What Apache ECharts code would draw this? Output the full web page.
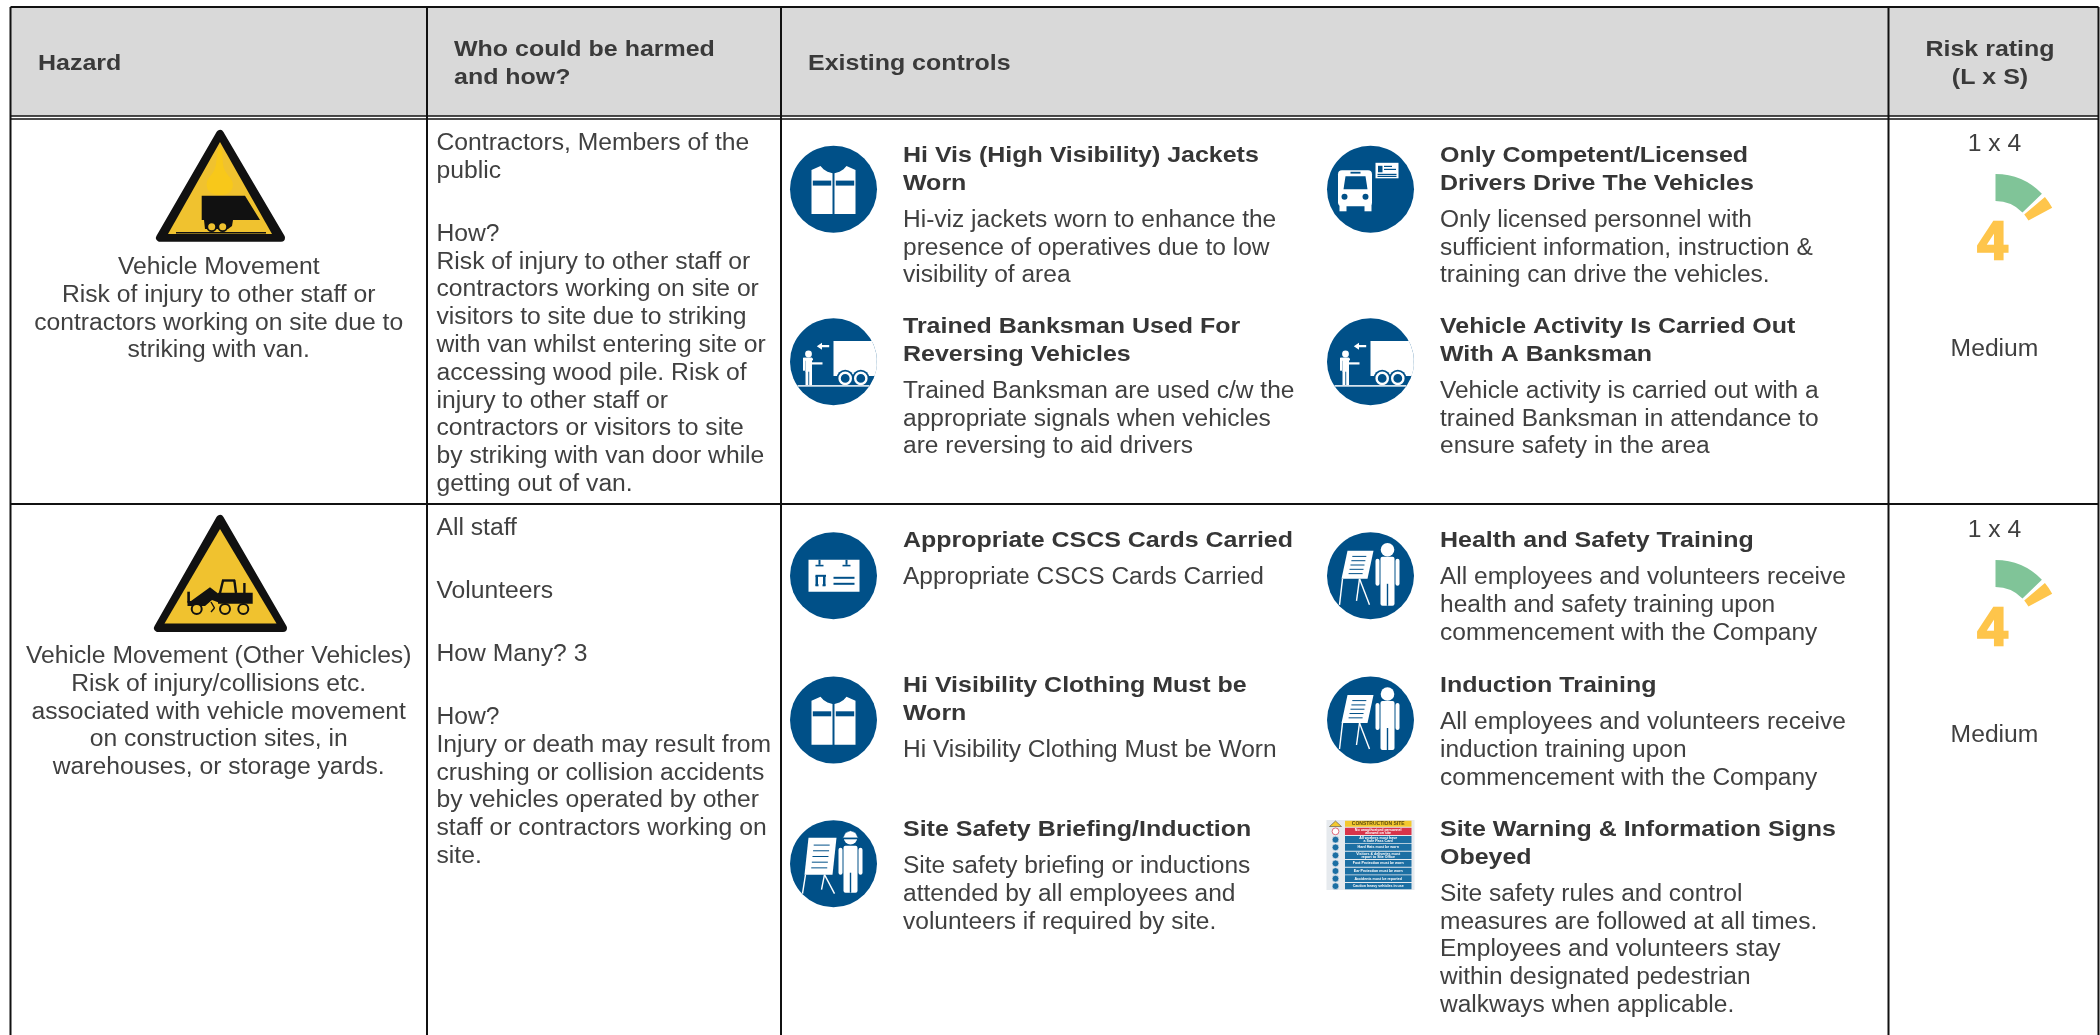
<!DOCTYPE html>
<html><head><meta charset="utf-8">
<script src="https://cdn.jsdelivr.net/npm/echarts@6/dist/echarts.min.js"></script>
<style>html,body{margin:0;padding:0;background:#fff}#c{width:2100px;height:1035px}</style>
</head><body><div id="c"></div>
<script>
// ---------- content ----------
const headers = { hazard: 'Hazard', who: 'Who could be harmed\nand how?', controls: 'Existing controls', risk: 'Risk rating\n(L x S)' };
const hazardTexts = [
  'Vehicle Movement\nRisk of injury to other staff or\ncontractors working on site due to\nstriking with van.',
  'Vehicle Movement (Other Vehicles)\nRisk of injury/collisions etc.\nassociated with vehicle movement\non construction sites, in\nwarehouses, or storage yards.'
];
const whoRow1 = [
  'Contractors, Members of the\npublic',
  'How?\nRisk of injury to other staff or\ncontractors working on site or\nvisitors to site due to striking\nwith van whilst entering site or\naccessing wood pile. Risk of\ninjury to other staff or\ncontractors or visitors to site\nby striking with van door while\ngetting out of van.'
];
const whoRow2 = [
  'All staff', 'Volunteers', 'How Many? 3',
  'How?\nInjury or death may result from\ncrushing or collision accidents\nby vehicles operated by other\nstaff or contractors working on\nsite.'
];
const controlsRow1Left = [
  { icon: 'vest', title: 'Hi Vis (High Visibility) Jackets\nWorn', body: 'Hi-viz jackets worn to enhance the\npresence of operatives due to low\nvisibility of area' },
  { icon: 'truck', title: 'Trained Banksman Used For\nReversing Vehicles', body: 'Trained Banksman are used c/w the\nappropriate signals when vehicles\nare reversing to aid drivers' }
];
const controlsRow1Right = [
  { icon: 'bus', title: 'Only Competent/Licensed\nDrivers Drive The Vehicles', body: 'Only licensed personnel with\nsufficient information, instruction &\ntraining can drive the vehicles.' },
  { icon: 'truck', title: 'Vehicle Activity Is Carried Out\nWith A Banksman', body: 'Vehicle activity is carried out with a\ntrained Banksman in attendance to\nensure safety in the area' }
];
const controlsRow2Left = [
  { icon: 'card', title: 'Appropriate CSCS Cards Carried', body: 'Appropriate CSCS Cards Carried' },
  { icon: 'vest', title: 'Hi Visibility Clothing Must be\nWorn', body: 'Hi Visibility Clothing Must be Worn' },
  { icon: 'briefing', title: 'Site Safety Briefing/Induction', body: 'Site safety briefing or inductions\nattended by all employees and\nvolunteers if required by site.' }
];
const controlsRow2Right = [
  { icon: 'training', title: 'Health and Safety Training', body: 'All employees and volunteers receive\nhealth and safety training upon\ncommencement with the Company' },
  { icon: 'training', title: 'Induction Training', body: 'All employees and volunteers receive\ninduction training upon\ncommencement with the Company' },
  { icon: 'sign', title: 'Site Warning & Information Signs\nObeyed', body: 'Site safety rules and control\nmeasures are followed at all times.\nEmployees and volunteers stay\nwithin designated pedestrian\nwalkways when applicable.' }
];
const riskLxS = ['1 x 4', '1 x 4'];
const riskScore = ['4', '4'];
const riskLevel = ['Medium', 'Medium'];
const gaugeSpans = [46, 4, 11.5, 298.5];           // degrees: green band, gap, yellow band, rest
const signLines = ['CONSTRUCTION SITE', 'No unauthorised personnel\nallowed on site', 'All workers must have\na Safe Pass Card', 'Hard Hats must be worn', 'Visitors & deliveries must\nreport to Site Office', 'Foot Protection must be worn', 'Ear Protection must be worn', 'Accidents must be reported', 'Caution heavy vehicles in use'];

// ---------- style / layout ----------
const FONT = 'Liberation Sans';
const INK = '#404040', NAVY = '#005088', BLACK = '#111', WARN = '#F0C22F';
const BODY = 23, HEAD = 22.5, LH = 27.8, TEXT_NUDGE = 1.6;
const mctx = document.createElement('canvas').getContext('2d');
function measure(t, f) { mctx.font = f; return mctx.measureText(t).width; }
const bodyScale = 369 / measure('contractors working on site due to', `${BODY}px "Liberation Sans"`);
const boldScale = 390 / measure('Appropriate CSCS Cards Carried', `bold ${HEAD}px "Liberation Sans"`);
const g = [];
function txt(t, x, yFirstCentre, o = {}) {
  const size = o.size || BODY, lh = o.lh || LH;
  g.push({ type: 'text', x, y: yFirstCentre - lh / 2 + TEXT_NUDGE, scaleX: o.scale || bodyScale, silent: true, z: 5,
    style: { text: t, x: 0, y: 0, fontFamily: FONT, fontSize: size, fontWeight: o.bold ? 'bold' : 'normal', fill: o.fill || INK,
      align: o.align || 'left', verticalAlign: 'top', lineHeight: lh } });
}
function rect(x, y, w, h, fill, r) { return { type: 'rect', shape: { x, y, width: w, height: h, r: r || 0 }, style: { fill }, silent: true }; }
function circ(cx, cy, r, fill, stroke, lw) { return { type: 'circle', shape: { cx, cy, r }, style: { fill: fill, stroke: stroke, lineWidth: lw || 0 }, silent: true }; }
function poly(pts, fill, stroke, lw, smooth) { return { type: 'polygon', shape: { points: pts, smooth: smooth || 0 }, style: { fill: fill || 'none', stroke: stroke, lineWidth: lw || 0, lineJoin: 'round' }, silent: true }; }
function line(x1, y1, x2, y2, c, w) { return { type: 'line', shape: { x1, y1, x2, y2 }, style: { stroke: c, lineWidth: w, lineCap: 'butt' }, silent: true }; }
function group(x, y, children) { g.push({ type: 'group', x, y, z: 4, silent: true, children }); }

// ---------- icons ----------
function person(hx, hy, top, bottom, w) {
  const L = hx - w, R = hx + w;
  return [
    circ(hx, hy, 6.8, '#fff'),
    rect(L + 5, top, 2 * w - 10, bottom - top, '#fff', 2),
    rect(L, top + 2, 4, 27, '#fff', 2),
    rect(R - 4, top + 2, 4, 27, '#fff', 2),
    rect(hx - 0.7, top + 27, 1.4, bottom - top - 27, NAVY)
  ];
}
function board(x0, y0, skew, w, h, legs) {
  const c = [poly([[x0 + skew, y0], [x0 + skew + w, y0], [x0 + w, y0 + h], [x0, y0 + h]], '#fff')];
  for (let i = 0; i < 5; i++) {
    const f = (i + 1.3) / 6.5, yy = y0 + h * f, sx = x0 + skew * (1 - f);
    c.push(line(sx + 6, yy, sx + w - 6, yy, NAVY, 1));
  }
  c.push(line(x0 + 1, y0 + h, x0 - 2, y0 + h + legs, '#fff', 1.4));
  c.push(line(x0 + w - 8, y0 + h, x0 + w + 2, y0 + h + legs, '#fff', 1.4));
  c.push(line(x0 + w - 8, y0 + h, x0 + w - 11, y0 + h + legs - 4, '#fff', 1.4));
  return c;
}
const icons = {
  vest() {
    return [
      poly([[-22, -19.3], [-13, -23.3], [-10, -20], [-6, -17.5], [-1, -16], [-1, 24.7], [-22, 24.7]], '#fff'),
      poly([[22, -19.3], [13, -23.3], [10, -20], [6, -17.5], [1, -16], [1, 24.7], [22, 24.7]], '#fff'),
      rect(-20.7, -8.7, 18.4, 5, NAVY), rect(2.3, -8.7, 18.4, 5, NAVY)
    ];
  },
  bus() {
    return [
      rect(-32.5, -19, 34, 36, '#fff', 4), rect(-31, 14, 7, 8, '#fff'), rect(-6, 14, 7, 8, '#fff'),
      poly([[-25, -13], [-5, -13], [-3, 0], [-27, 0]], NAVY),
      rect(-20, -17.5, 10, 1.8, NAVY), circ(-26, 7.5, 3, NAVY), circ(-5, 7.5, 3, NAVY),
      rect(5, -26.5, 23, 15.5, '#fff'),
      rect(7.5, -23.5, 4.5, 6.5, NAVY), rect(13.5, -23.5, 8, 1.2, NAVY), rect(13.5, -20.5, 12, 1.2, NAVY), rect(7, -15.5, 19, 1.2, NAVY), rect(7, -13.5, 19, 1.2, NAVY)
    ];
  },
  truck() {
    return [
      poly([[0, -20.7], [38.3, -20.7], [40.5, -16], [42.5, -9], [43.3, -3], [43.3, 4], [42.6, 9], [41, 14.3], [0, 14.3]], '#fff'),
      circ(11.7, 16.7, 8.6, NAVY), circ(27.3, 16.7, 8.6, NAVY),
      circ(11.7, 16.7, 5.6, NAVY, '#fff', 2.4), circ(27.3, 16.7, 5.6, NAVY, '#fff', 2.4),
      line(-36, 24.2, 36, 24.2, '#d5e2ec', 1.6),
      circ(-25, -7.7, 3.4, '#fff'), rect(-30.5, -4, 10, 3, '#fff', 1.5),
      rect(-28, -4, 6.5, 14, '#fff'), rect(-28, 9, 2.8, 14.5, '#fff'), rect(-24.3, 9, 2.8, 14.5, '#fff'),
      rect(-30.5, -4, 2.4, 13, '#fff'), rect(-22, 0.6, 11, 2.2, '#fff'),
      poly([[-16.7, -15.5], [-11.5, -19], [-11.5, -16.6], [-4.3, -16.6], [-4.3, -14.4], [-11.5, -14.4], [-11.5, -12]], '#fff')
    ];
  },
  card() {
    return [
      rect(-25, -16, 51, 32, '#fff'),
      rect(-15, -16, 2, 5, NAVY), rect(12, -16, 2, 5, NAVY), rect(-18, -11, 8, 1.6, NAVY), rect(9, -11, 8, 1.6, NAVY),
      rect(-18, 0, 2.5, 10, NAVY), rect(-10.5, 0, 2.5, 10, NAVY), rect(-18, -1, 10.5, 2, NAVY), rect(-18, 8.5, 3, 2, NAVY), rect(-11, 8.5, 3, 2, NAVY),
      rect(0, 1, 21, 2, NAVY), rect(0, 7, 21, 2, NAVY)
    ];
  },
  training() { return [...board(-29, -25, 6, 26, 28, 26), ...person(17, -26, -19, 30, 12)]; },
  briefing() {
    return [...board(-29, -26, 4, 28, 37, 19), ...person(17, -26, -18, 29, 12),
      poly([[10, -27], [12, -31], [17, -33], [22, -31], [24, -27], [25, -25.5], [9, -25.5]], '#fff', NAVY, 0.6), rect(9, -26, 16, 1.6, NAVY)];
  },
  sign() {
    const ys = [[0.7, 6], [7.7, 7.3], [16, 7.3], [24, 6.7], [31.7, 7.3], [40, 6.7], [47.7, 6.7], [55.3, 6.7], [63, 6.3]];
    const c = [rect(0, 0, 88, 70, '#E6EAEE')];
    ys.forEach((r, i) => {
      c.push(rect(18.5, r[0], 66.5, r[1], i === 0 ? '#F3C82E' : i === 1 ? '#D8344A' : '#1C6FA3'));
      if (i === 0) c.push(poly([[9, 1], [15, 6.5], [3, 6.5]], '#F3C82E', '#333', 0.5));
      else c.push(circ(9, r[0] + r[1] / 2, 3.4, i === 1 ? '#fff' : '#1C6FA3', i === 1 ? '#D8344A' : '#E6EAEE', 0.7));
      c.push({ type: 'text', x: 51.7, y: r[0] + r[1] / 2, silent: true, style: { text: signLines[i], x: 0, y: 0, fontFamily: FONT, fontWeight: 'bold', fontSize: i === 0 ? 5 : 3.6, fill: i === 0 ? '#5a4a10' : '#fff', align: 'center', verticalAlign: 'middle', lineHeight: 3.4 } });
    });
    return c;
  }
};
function drawIcon(name, cx, cy) {
  if (name === 'sign') { group(cx - 44, cy - 35, icons.sign()); return; }
  group(cx, cy, [circ(0, 0, 43.5, NAVY), ...icons[name]()]);
}

// ---------- table ----------
const COL = [10.5, 427, 781, 1888.5, 2098.5];
const TOP = 7, HEAD_B = 116, ROW1 = 119, ROW2 = 504;
g.push({ type: 'rect', shape: { x: COL[0], y: TOP, width: COL[4] - COL[0], height: HEAD_B - TOP }, style: { fill: '#D9D9D9' }, silent: true, z: 1 });
[...COL].forEach(x => g.push({ type: 'line', shape: { x1: x, y1: TOP, x2: x, y2: 1035 }, style: { stroke: BLACK, lineWidth: 2 }, silent: true, z: 3 }));
[TOP, HEAD_B, ROW1, ROW2].forEach(y => g.push({ type: 'line', shape: { x1: COL[0], y1: y, x2: COL[4], y2: y }, style: { stroke: BLACK, lineWidth: y === HEAD_B || y === ROW1 ? 1.6 : 2 }, silent: true, z: 3 }));

// header texts
const hdr = { bold: true, size: HEAD, scale: boldScale, fill: '#3A3A3A' };
txt(headers.hazard, 38, 62, hdr);
txt(headers.who, 454, 48, hdr);
txt(headers.controls, 808, 62, hdr);
txt(headers.risk, 1990, 48, { ...hdr, align: 'center' });

// hazard column
txt(hazardTexts[0], 218.7, 266, { align: 'center' });
txt(hazardTexts[1], 218.7, 655, { align: 'center' });
// triangle 1
group(0, 0, [
  poly([[220, 134], [160, 237.7], [281, 237.7]], BLACK, BLACK, 8),
  poly([[220, 142], [168, 234], [272, 234]], WARN),
  poly([[218.3, 148.3], [221.7, 148.3], [224, 168.3], [232.7, 183.3], [228.3, 193.3], [211.7, 193.3], [206.7, 183.3], [215, 168.3]], '#F8C81A', null, 0, 0.4),
  line(176, 232.8, 266, 232.8, BLACK, 1.4),
  poly([[201.7, 195.7], [245, 195.7], [260, 220], [233, 220], [232, 226], [228, 229], [205, 229], [204, 220], [201.7, 220]], BLACK),
  circ(211.7, 226.7, 4.4, WARN, BLACK, 1.8), circ(222.7, 226.7, 4.4, WARN, BLACK, 1.8)
]);
// triangle 2
group(0, 0, [
  poly([[220, 519], [158, 628], [283, 628]], BLACK, BLACK, 8),
  poly([[220, 529], [164.5, 623.5], [276.5, 623.5]], WARN),
  line(220, 593, 223, 580.5, BLACK, 2.4), line(222, 580.5, 235, 580.5, BLACK, 2.4), line(234.3, 580, 236, 593, BLACK, 2.4),
  rect(218, 592.7, 34.7, 11, BLACK),
  rect(243.2, 583, 2.4, 10, BLACK),
  poly([[187.5, 601], [191, 601], [210, 587.3], [220, 595], [220, 603], [212, 600], [205, 606], [187.5, 606]], BLACK),
  rect(187.3, 591.7, 2.6, 11, BLACK),
  line(211, 602, 214.5, 608, BLACK, 1.4), line(214.5, 608, 211, 612, BLACK, 1.4),
  circ(196.7, 609, 5, WARN, BLACK, 2), circ(225, 609, 5, WARN, BLACK, 2), circ(243.3, 609, 5, WARN, BLACK, 2)
]);

// who column
function paragraphs(list, x, y) {
  list.forEach(p => { txt(p, x, y); y += p.split('\n').length * LH + 35.2; });
}
paragraphs(whoRow1, 436.5, 142);
paragraphs(whoRow2, 436.5, 527);

// controls
function controls(list, x, ys, iconYs) {
  list.forEach((c, i) => {
    const n = c.title.split('\n').length, y = ys[i];
    drawIcon(c.icon, x - 69.5, c.icon === 'sign' ? 855 : iconYs[i]);
    txt(c.title, x, y, { bold: true, size: HEAD, scale: boldScale, fill: '#363636' });
    txt(c.body, x, y + (n - 1) * LH + 37, { scale: bodyScale * 0.993 });
  });
}
controls(controlsRow1Left, 903, [154, 325], [189.3, 361.7]);
controls(controlsRow1Right, 1440, [154, 325], [189.3, 361.7]);
controls(controlsRow2Left, 903, [539, 684, 828], [575.8, 720, 863.7]);
controls(controlsRow2Right, 1440, [539, 684, 828], [575.8, 720, 863.7]);

// risk
const RISK_X = 1994.5, ROWSTEP = 386, GAUGE_Y = 238.5;
const series = [];
riskLxS.forEach((v, i) => {
  const d = i * ROWSTEP;
  txt(v, RISK_X, 142.7 + d, { align: 'center' });
  txt(riskLevel[i], RISK_X, 348 + d, { align: 'center' });
  g.push({ type: 'text', x: 1992.5, y: 244 + d, silent: true, z: 5, style: { text: riskScore[i], x: 0, y: 0, fontFamily: FONT, fontWeight: 'bold', fontSize: 54, fill: '#FEC54B', stroke: '#FEC54B', lineWidth: 2.5, lineJoin: 'round', align: 'center', verticalAlign: 'middle' } });
  series.push({
    type: 'pie', silent: true, animation: false, center: [1995.5, GAUGE_Y + d], radius: [37.5, 64.5], startAngle: 90, clockwise: true,
    label: { show: false }, labelLine: { show: false }, emphasis: { disabled: true },
    data: [
      { value: gaugeSpans[0], itemStyle: { color: '#80C498' } },
      { value: gaugeSpans[1], itemStyle: { color: 'transparent' } },
      { value: gaugeSpans[2], itemStyle: { color: '#FEC54B' } },
      { value: gaugeSpans[3], itemStyle: { color: 'transparent' } }
    ]
  });
});

const chart = echarts.init(document.getElementById('c'), null, { renderer: 'canvas', width: 2100, height: 1035 });
chart.setOption({ backgroundColor: '#fff', animation: false, series, graphic: { elements: g } });
</script></body></html>
